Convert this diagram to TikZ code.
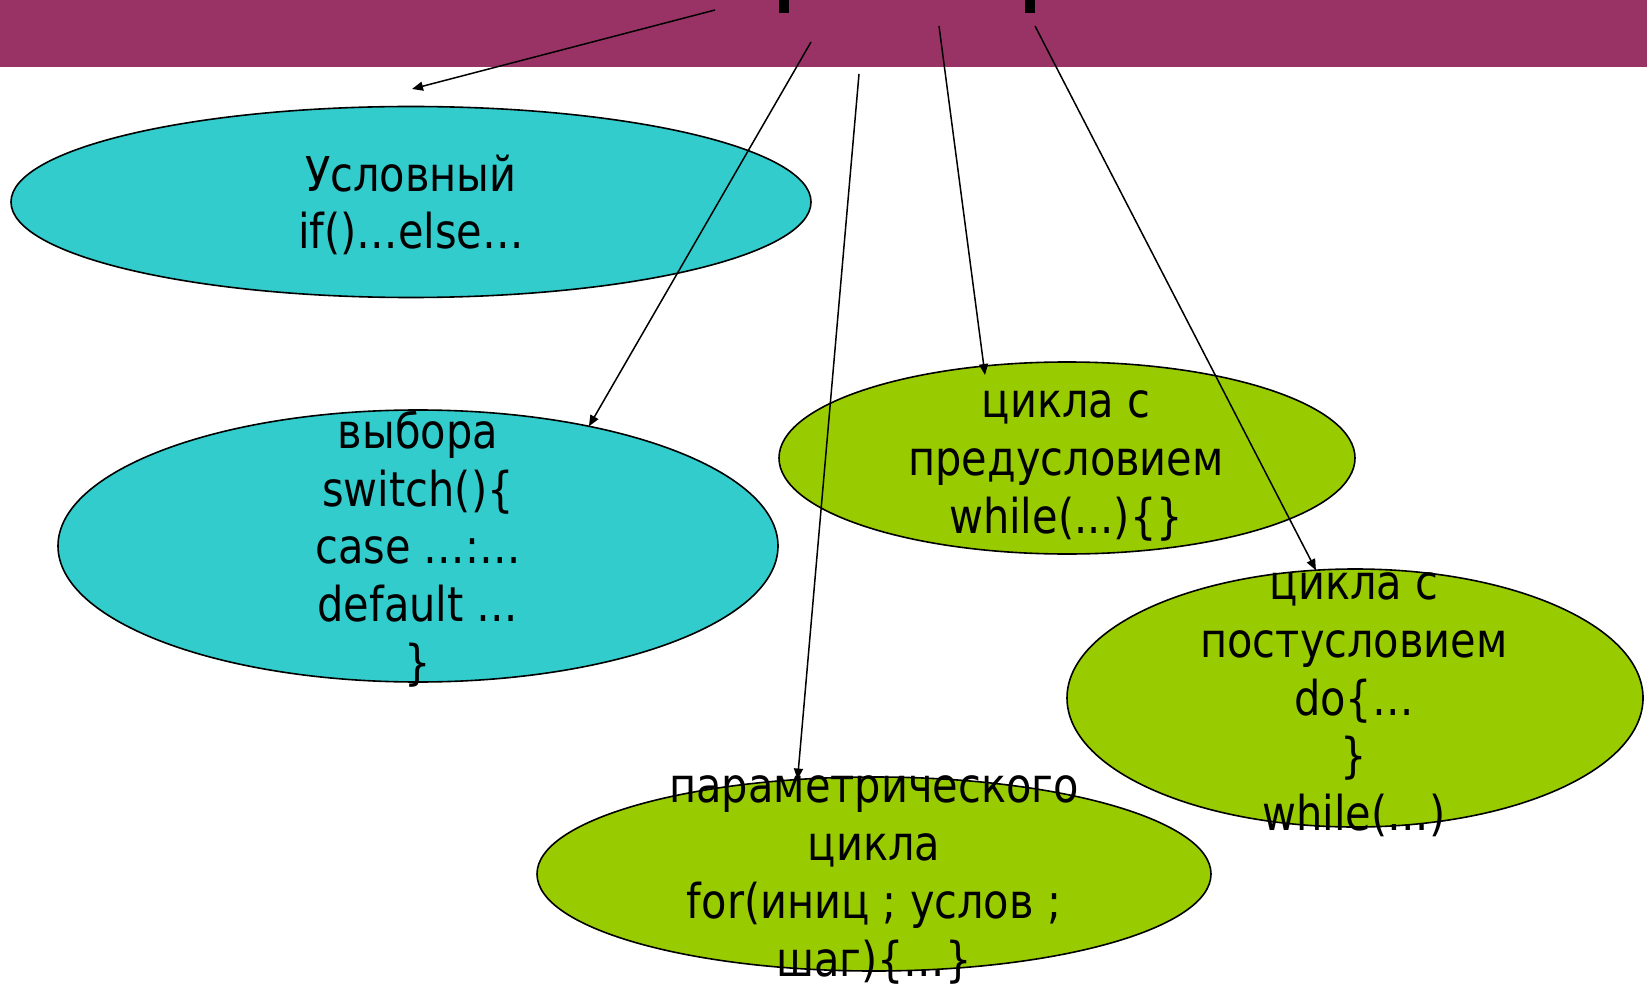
\documentclass[tikz,border=0pt]{standalone}
\usepackage{fontspec}
\setmainfont{DejaVu Sans}[FakeStretch=0.865]
\usetikzlibrary{arrows.meta,shapes.geometric}
\definecolor{band}{HTML}{993366}
\definecolor{cyanfill}{HTML}{33CCCC}
\definecolor{greenfill}{HTML}{99CC00}
\tikzset{
  blob/.style={ellipse, draw=black, line width=0.8pt, inner sep=0pt, outer sep=0pt},
  cyanblob/.style={blob, fill=cyanfill},
  greenblob/.style={blob, fill=greenfill},
  caption/.style={align=center, inner sep=0pt,
    font=\fontsize{24pt}{28.85pt}\selectfont},
  link/.style={line width=0.75pt, -{Triangle[length=5.5pt,width=4.5pt]}}
}
\begin{document}
\begin{tikzpicture}[x=0.5pt, y=-0.5pt]
\useasboundingbox (0,0) rectangle (1647,989);
\fill[white] (0,0) rectangle (1647,989);
% header band with the cut-off title strokes
\fill[band] (0,0) rectangle (1647,67);
\fill[black] (779,0) rectangle (789,13);
\fill[black] (1025,0) rectangle (1035,13);

% ellipses
\node[cyanblob, minimum width=400pt, minimum height=95.5pt] (e1) at (411,202) {};
\node[cyanblob, minimum width=360pt, minimum height=136pt] (e2) at (418,546) {};
\node[greenblob, minimum width=288pt, minimum height=96pt] (e3) at (1067,458) {};
\node[greenblob, minimum width=288pt, minimum height=129pt] (e4) at (1355,698) {};
\node[greenblob, minimum width=337pt, minimum height=97pt] (e5) at (874,874) {};

% captions
\node[caption] (t1) at (411,205) {Условный\\if()…else…};
\node[caption] (t2) at (418,549) {выбора\\switch()\{\\case …:…\\default …\\\}};
\node[caption] (t3) at (1066,466) {цикла с\\предусловием\\while(...)\{\}};
\node[caption] (t4) at (1354,705) {цикла с\\постусловием\\do\{…\\\}\\while(…)};
\node[caption] (t5) at (874,880) {параметрического\\цикла\\for(иниц ; услов ;\\шаг)\{…\}};

% connector start points inside the header band
\coordinate (s1) at (715,10);
\coordinate (s2) at (811,42);
\coordinate (s3) at (859,74);
\coordinate (s4) at (939,26);
\coordinate (s5) at (1035,26);
\coordinate (p1) at (412,89);
\coordinate (p4) at (985,375);

% connectors
\draw[link] (s1) -- (p1);
\draw[link] (s2) -- (e2.35.7);
\draw[link] (s3) -- (e5.129);
\draw[link] (s4) -- (p4);
\draw[link] (s5) -- (e4.107);
\end{tikzpicture}
\end{document}
